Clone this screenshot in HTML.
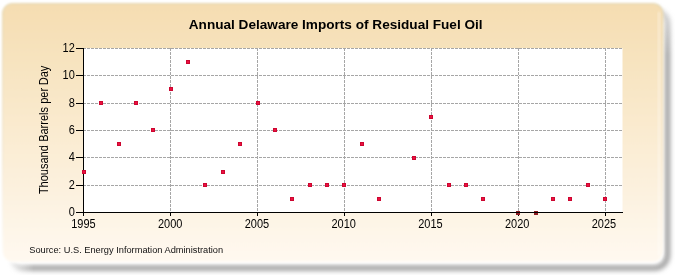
<!DOCTYPE html>
<html><head><meta charset="utf-8"><style>
html,body{margin:0;padding:0;background:#fff;width:675px;height:275px;overflow:hidden}
svg{display:block;will-change:transform}
text{font-family:"Liberation Sans",sans-serif}
</style></head><body>
<svg width="675" height="275" viewBox="0 0 675 275">
<defs>
<linearGradient id="bg" x1="0" y1="0" x2="0" y2="1">
<stop offset="0" stop-color="#F5DDB1"/>
<stop offset="1" stop-color="#FFF9F0"/>
</linearGradient>
<filter id="sh" x="-5%" y="-5%" width="110%" height="110%"><feGaussianBlur stdDeviation="2.8"/></filter>
<linearGradient id="bd" x1="0" y1="0" x2="0" y2="1"><stop offset="0" stop-color="#E6D9B4"/><stop offset="0.6" stop-color="#F2E8D6"/><stop offset="1" stop-color="#FFFFFF"/></linearGradient>
<linearGradient id="gh" x1="0" y1="0" x2="675" y2="0" gradientUnits="userSpaceOnUse"><stop offset="0.01" stop-color="#fff" stop-opacity="0"/><stop offset="0.05" stop-color="#fff" stop-opacity="1"/></linearGradient>
<linearGradient id="gv" x1="0" y1="0" x2="0" y2="275" gradientUnits="userSpaceOnUse"><stop offset="0.03" stop-color="#fff" stop-opacity="0.45"/><stop offset="0.2" stop-color="#fff" stop-opacity="1"/></linearGradient>
<mask id="mh" maskUnits="userSpaceOnUse" x="0" y="0" width="675" height="275"><rect x="0" y="0" width="675" height="275" fill="url(#gh)"/></mask>
<mask id="mv" maskUnits="userSpaceOnUse" x="0" y="0" width="675" height="275"><rect x="0" y="0" width="675" height="275" fill="url(#gv)"/></mask>
<filter id="soft" x="-2%" y="-2%" width="104%" height="104%"><feGaussianBlur stdDeviation="0.8"/></filter>
</defs>
<g mask="url(#mh)"><g mask="url(#mv)"><rect x="9.5" y="10.5" width="658" height="257.5" rx="13" fill="none" stroke="#969696" stroke-width="5" filter="url(#sh)"/></g></g>
<rect x="2.6" y="3.6" width="660.4" height="258.7" rx="10" fill="url(#bg)" stroke="url(#bd)" stroke-width="1.2" filter="url(#soft)"/>
<rect x="657.5" y="12" width="3" height="244" fill="#fff" opacity="0.3" filter="url(#soft)"/>
<rect x="84" y="48" width="538.5" height="164" fill="#fff"/>
<g stroke="#A6A6A6" stroke-width="1" stroke-dasharray="3,1" stroke-dashoffset="1"><line x1="84" y1="185.5" x2="623" y2="185.5"/><line x1="84" y1="157.5" x2="623" y2="157.5"/><line x1="84" y1="130.5" x2="623" y2="130.5"/><line x1="84" y1="103.5" x2="623" y2="103.5"/><line x1="84" y1="75.5" x2="623" y2="75.5"/><line x1="84" y1="48.5" x2="623" y2="48.5"/></g>
<g stroke="#A6A6A6" stroke-width="1" stroke-dasharray="3,1"><line x1="170.5" y1="48" x2="170.5" y2="212"/><line x1="257.5" y1="48" x2="257.5" y2="212"/><line x1="344.5" y1="48" x2="344.5" y2="212"/><line x1="431.5" y1="48" x2="431.5" y2="212"/><line x1="518.5" y1="48" x2="518.5" y2="212"/><line x1="605.5" y1="48" x2="605.5" y2="212"/></g>
<g stroke="#000" stroke-width="1">
<line x1="83.5" y1="48" x2="83.5" y2="212.5"/>
<line x1="76" y1="212.5" x2="83" y2="212.5"/><line x1="76" y1="185.5" x2="83" y2="185.5"/><line x1="76" y1="157.5" x2="83" y2="157.5"/><line x1="76" y1="130.5" x2="83" y2="130.5"/><line x1="76" y1="103.5" x2="83" y2="103.5"/><line x1="76" y1="75.5" x2="83" y2="75.5"/><line x1="76" y1="48.5" x2="83" y2="48.5"/>
<line x1="83.5" y1="212" x2="83.5" y2="216"/><line x1="170.5" y1="212" x2="170.5" y2="216"/><line x1="257.5" y1="212" x2="257.5" y2="216"/><line x1="344.5" y1="212" x2="344.5" y2="216"/><line x1="431.5" y1="212" x2="431.5" y2="216"/><line x1="518.5" y1="212" x2="518.5" y2="216"/><line x1="605.5" y1="212" x2="605.5" y2="216"/>
</g>
<g fill="#CC0630"><rect x="82" y="170" width="4" height="4"/><rect x="83" y="171" width="2" height="2" fill="#EC1040"/><rect x="99" y="101" width="4" height="4"/><rect x="100" y="102" width="2" height="2" fill="#EC1040"/><rect x="117" y="142" width="4" height="4"/><rect x="118" y="143" width="2" height="2" fill="#EC1040"/><rect x="134" y="101" width="4" height="4"/><rect x="135" y="102" width="2" height="2" fill="#EC1040"/><rect x="151" y="128" width="4" height="4"/><rect x="152" y="129" width="2" height="2" fill="#EC1040"/><rect x="169" y="87" width="4" height="4"/><rect x="170" y="88" width="2" height="2" fill="#EC1040"/><rect x="186" y="60" width="4" height="4"/><rect x="187" y="61" width="2" height="2" fill="#EC1040"/><rect x="203" y="183" width="4" height="4"/><rect x="204" y="184" width="2" height="2" fill="#EC1040"/><rect x="221" y="170" width="4" height="4"/><rect x="222" y="171" width="2" height="2" fill="#EC1040"/><rect x="238" y="142" width="4" height="4"/><rect x="239" y="143" width="2" height="2" fill="#EC1040"/><rect x="256" y="101" width="4" height="4"/><rect x="257" y="102" width="2" height="2" fill="#EC1040"/><rect x="273" y="128" width="4" height="4"/><rect x="274" y="129" width="2" height="2" fill="#EC1040"/><rect x="290" y="197" width="4" height="4"/><rect x="291" y="198" width="2" height="2" fill="#EC1040"/><rect x="308" y="183" width="4" height="4"/><rect x="309" y="184" width="2" height="2" fill="#EC1040"/><rect x="325" y="183" width="4" height="4"/><rect x="326" y="184" width="2" height="2" fill="#EC1040"/><rect x="342" y="183" width="4" height="4"/><rect x="343" y="184" width="2" height="2" fill="#EC1040"/><rect x="360" y="142" width="4" height="4"/><rect x="361" y="143" width="2" height="2" fill="#EC1040"/><rect x="377" y="197" width="4" height="4"/><rect x="378" y="198" width="2" height="2" fill="#EC1040"/><rect x="412" y="156" width="4" height="4"/><rect x="413" y="157" width="2" height="2" fill="#EC1040"/><rect x="429" y="115" width="4" height="4"/><rect x="430" y="116" width="2" height="2" fill="#EC1040"/><rect x="447" y="183" width="4" height="4"/><rect x="448" y="184" width="2" height="2" fill="#EC1040"/><rect x="464" y="183" width="4" height="4"/><rect x="465" y="184" width="2" height="2" fill="#EC1040"/><rect x="481" y="197" width="4" height="4"/><rect x="482" y="198" width="2" height="2" fill="#EC1040"/><rect x="516" y="211" width="4" height="4" fill="#8E1C22"/><rect x="534" y="211" width="4" height="4" fill="#8E1C22"/><rect x="551" y="197" width="4" height="4"/><rect x="552" y="198" width="2" height="2" fill="#EC1040"/><rect x="568" y="197" width="4" height="4"/><rect x="569" y="198" width="2" height="2" fill="#EC1040"/><rect x="586" y="183" width="4" height="4"/><rect x="587" y="184" width="2" height="2" fill="#EC1040"/><rect x="603" y="197" width="4" height="4"/><rect x="604" y="198" width="2" height="2" fill="#EC1040"/></g>
<line x1="83" y1="212.5" x2="623" y2="212.5" stroke="#000" stroke-width="1"/>
<g font-size="11" text-anchor="end" fill="#000"><text transform="translate(74.8,216.00) scale(1,1.09)">0</text><text transform="translate(74.8,188.67) scale(1,1.09)">2</text><text transform="translate(74.8,161.33) scale(1,1.09)">4</text><text transform="translate(74.8,134.00) scale(1,1.09)">6</text><text transform="translate(74.8,106.67) scale(1,1.09)">8</text><text transform="translate(74.8,79.33) scale(1,1.09)">10</text><text transform="translate(74.8,52.00) scale(1,1.09)">12</text></g>
<g font-size="11" text-anchor="middle" fill="#000"><text transform="translate(83.40,228) scale(1,1.09)">1995</text><text transform="translate(170.15,228) scale(1,1.09)">2000</text><text transform="translate(256.90,228) scale(1,1.09)">2005</text><text transform="translate(343.65,228) scale(1,1.09)">2010</text><text transform="translate(430.40,228) scale(1,1.09)">2015</text><text transform="translate(517.15,228) scale(1,1.09)">2020</text><text transform="translate(603.90,228) scale(1,1.09)">2025</text></g>
<text x="335.7" y="28.9" font-size="13.6" font-weight="bold" text-anchor="middle" fill="#000">Annual Delaware Imports of Residual Fuel Oil</text>
<text transform="translate(29.3,253)" font-size="9.25" fill="#111">Source: U.S. Energy Information Administration</text>
<text transform="translate(47.7,192.8) rotate(-90) scale(1,1.09)" font-size="11" fill="#000" x="-1.3 5.42 11.54 17.65 23.77 29.27 35.39 41.51 47.63 50.94 58.28 64.39 68.06 71.72 77.84 80.28 85.78 88.97 95.09 101.21 104.87 107.58 115.52 121.64">Thousand Barrels per Day</text>
</svg>
</body></html>
